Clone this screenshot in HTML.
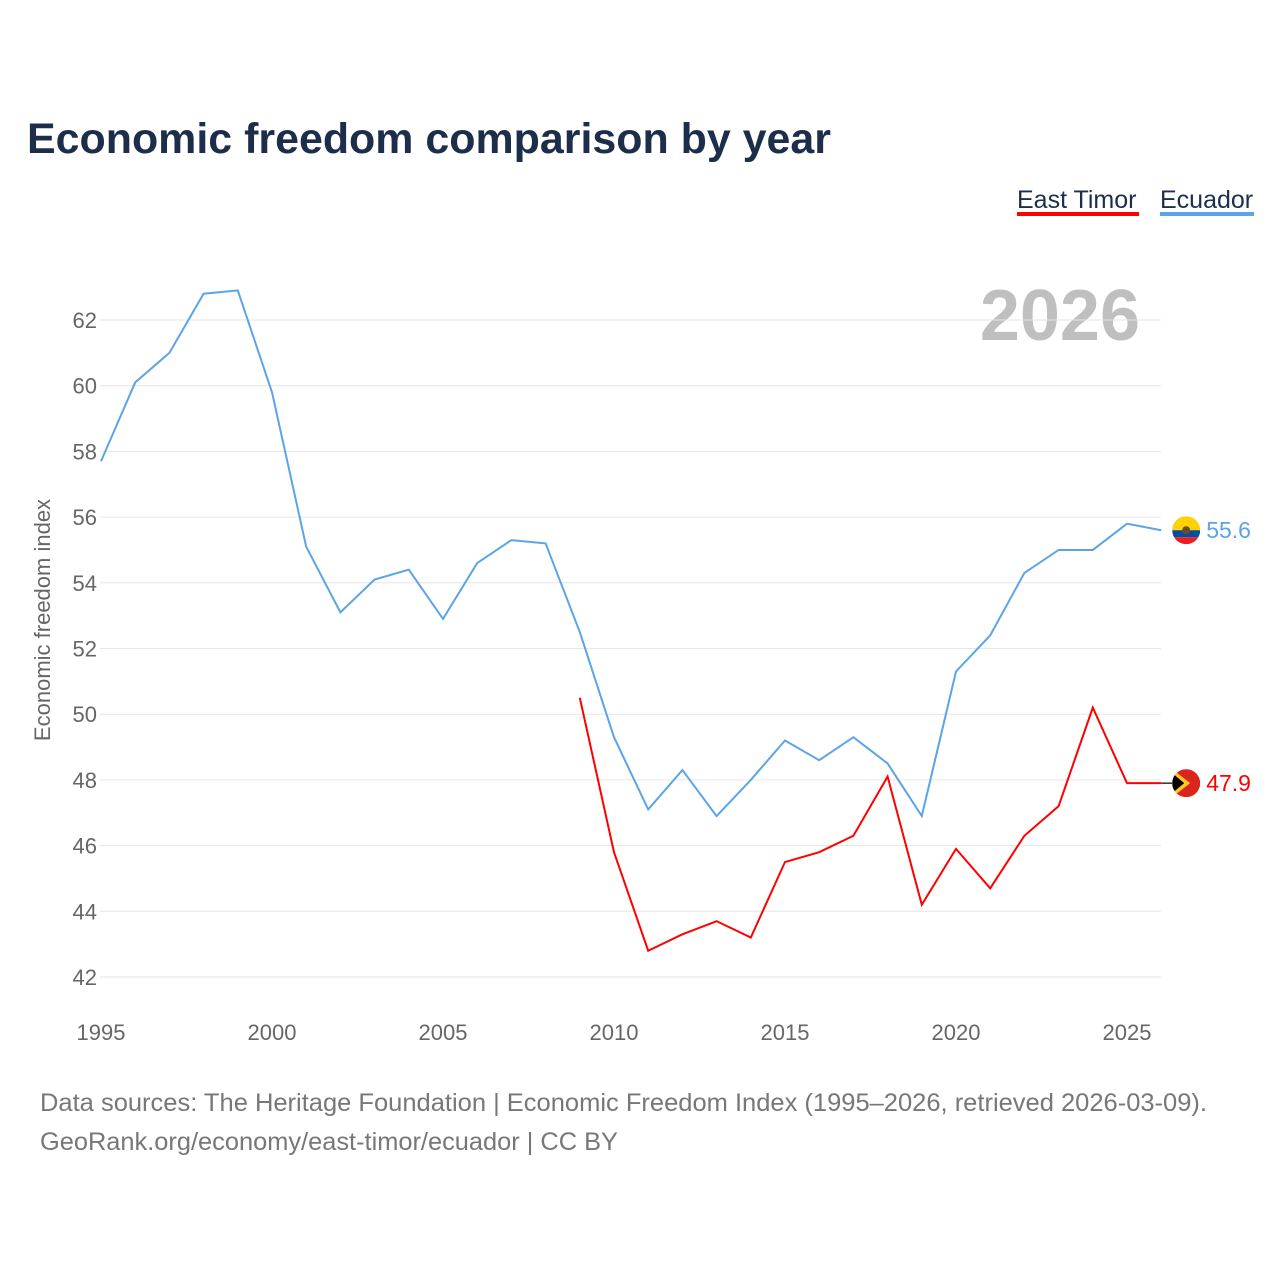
<!DOCTYPE html>
<html><head><meta charset="utf-8">
<style>
body{margin:0;background:#fff;width:1280px;height:1280px;overflow:hidden;font-family:"Liberation Sans",sans-serif}
svg{display:block}
</style></head>
<body>
<svg width="1280" height="1280" id="chart" xmlns="http://www.w3.org/2000/svg">
<defs>
<clipPath id="cE"><circle cx="1186" cy="0" r="14" id="cEc"/></clipPath>
<clipPath id="cT"><circle cx="1186" cy="0" r="14" id="cTc"/></clipPath>
</defs>
<text x="27" y="153" font-size="43" font-weight="bold" fill="#1c2e4a" textLength="804" lengthAdjust="spacingAndGlyphs">Economic freedom comparison by year</text>
<g>
<text x="1017" y="208" font-size="25" fill="#1c2e4a">East Timor</text>
<rect x="1017" y="212" width="122" height="4" fill="#ff0000"/>
<text x="1160" y="208" font-size="25" fill="#1c2e4a">Ecuador</text>
<rect x="1160" y="212" width="94" height="4" fill="#5ba4e8"/>
</g>
<text x="1140" y="340" font-size="72" font-weight="bold" fill="#bfbfbf" text-anchor="end">2026</text>
<text transform="translate(50,620) rotate(-90)" font-size="22" fill="#666" text-anchor="middle">Economic freedom index</text>
<g id="grid"></g><g id="xt"></g><g id="series"></g>
<text x="40" y="1111" font-size="25" fill="#777" textLength="1167" lengthAdjust="spacingAndGlyphs">Data sources: The Heritage Foundation | Economic Freedom Index (1995–2026, retrieved 2026-03-09).</text>
<text x="40" y="1150" font-size="25" fill="#777" textLength="578" lengthAdjust="spacingAndGlyphs">GeoRank.org/economy/east-timor/ecuador | CC BY</text>
</svg>
<script>
const years=[1995,1996,1997,1998,1999,2000,2001,2002,2003,2004,2005,2006,2007,2008,2009,2010,2011,2012,2013,2014,2015,2016,2017,2018,2019,2020,2021,2022,2023,2024,2025,2026];
const ecuador=[57.7,60.1,61.0,62.8,62.9,59.8,55.1,53.1,54.1,54.4,52.9,54.6,55.3,55.2,52.5,49.3,47.1,48.3,46.9,48.0,49.2,48.6,49.3,48.5,46.9,51.3,52.4,54.3,55.0,55.0,55.8,55.6];
const timorYears=[2009,2010,2011,2012,2013,2014,2015,2016,2017,2018,2019,2020,2021,2022,2023,2024,2025,2026];
const timor=[50.5,45.8,42.8,43.3,43.7,43.2,45.5,45.8,46.3,48.1,44.2,45.9,44.7,46.3,47.2,50.2,47.9,47.9];
const yTicks=[42,44,46,48,50,52,54,56,58,60,62];
const xTicks=[1995,2000,2005,2010,2015,2020,2025];
const NS="http://www.w3.org/2000/svg";
const X=y=>101+(y-1995)*34.2;
const Y=v=>320+(62-v)*32.85;
function mk(t,a,p){const e=document.createElementNS(NS,t);for(const k in a)e.setAttribute(k,a[k]);p.appendChild(e);return e;}
const grid=document.getElementById('grid');
yTicks.forEach(v=>{
 const l=mk('line',{x1:100,x2:1161,y1:Y(v),y2:Y(v),stroke:'#e6e6e6','stroke-width':1},grid);
 
 
 const t=mk('text',{x:97,y:Y(v)+8,'font-size':22,fill:'#666','text-anchor':'end'},grid);
 t.textContent=v;
 
 
});
const xt=document.getElementById('xt');
xTicks.forEach(v=>{
 const t=mk('text',{x:X(v),y:1040,'font-size':22,fill:'#666','text-anchor':'middle'},xt);
 t.textContent=v;
 
 
});
const s=document.getElementById('series');
function line(xs,vs,c,name){
 const p=mk('polyline',{points:xs.map((y,i)=>X(y)+','+Y(vs[i])).join(' '),fill:'none',stroke:c,'stroke-width':2},s);
 
 
}
line(years,ecuador,'#5ba4e8','ecuador-line');
line(timorYears,timor,'#ff0000','east-timor-line');
const eL=ecuador[ecuador.length-1],tL=timor[timor.length-1];
const ex=X(2026)+25;
document.getElementById('cEc').setAttribute('cx',ex);
document.getElementById('cEc').setAttribute('cy',Y(eL));
document.getElementById('cTc').setAttribute('cx',ex);
document.getElementById('cTc').setAttribute('cy',Y(tL));
const g1=mk('g',{'clip-path':'url(#cE)'},s);


mk('rect',{x:ex-14,y:Y(eL)-14,width:28,height:14,fill:'#ffd100'},g1);
mk('rect',{x:ex-14,y:Y(eL),width:28,height:7,fill:'#034ea2'},g1);
mk('rect',{x:ex-14,y:Y(eL)+7,width:28,height:7,fill:'#ed1c24'},g1);
mk('circle',{cx:ex,cy:Y(eL),r:4,fill:'#6b4c2a'},g1);
const t1=mk('text',{x:ex+20,y:Y(eL)+8,'font-size':23,fill:'#5ba4e8'},s);
t1.textContent=eL.toFixed(1);


mk('line',{x1:X(2026),x2:ex-14,y1:Y(tL),y2:Y(tL),stroke:'#333','stroke-width':1.5},s);
const g2=mk('g',{'clip-path':'url(#cT)'},s);


mk('rect',{x:ex-14,y:Y(tL)-14,width:28,height:28,fill:'#dc241f'},g2);
mk('polygon',{points:`${ex-14},${Y(tL)-14} ${ex+4},${Y(tL)} ${ex-14},${Y(tL)+14}`,fill:'#ffc726'},g2);
mk('polygon',{points:`${ex-14},${Y(tL)-10} ${ex-2},${Y(tL)} ${ex-14},${Y(tL)+10}`,fill:'#000'},g2);
const t2=mk('text',{x:ex+20,y:Y(tL)+8,'font-size':23,fill:'#ff0000'},s);
t2.textContent=tL.toFixed(1);


</script>
</body></html>
